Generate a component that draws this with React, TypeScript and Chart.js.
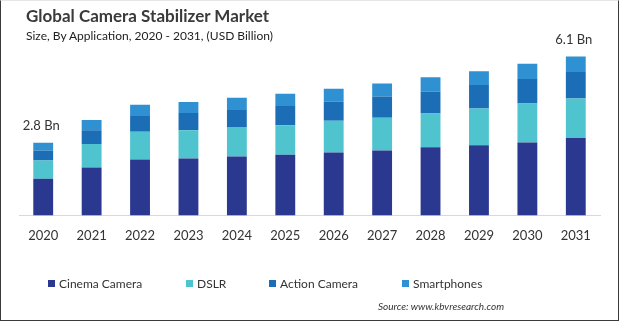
import React, { useEffect, useRef } from "react";
import { Chart, registerables } from "chart.js";

Chart.register(...registerables);

const categories = ["2020", "2021", "2022", "2023", "2024", "2025", "2026", "2027", "2028", "2029", "2030", "2031"];
const cinemaCamera = [1.41, 1.84, 2.15, 2.19, 2.27, 2.34, 2.42, 2.5, 2.62, 2.7, 2.81, 2.98];
const dslr = [0.7, 0.91, 1.07, 1.09, 1.13, 1.13, 1.22, 1.26, 1.3, 1.42, 1.5, 1.52];
const actionCamera = [0.39, 0.53, 0.61, 0.66, 0.66, 0.74, 0.74, 0.82, 0.85, 0.9, 0.94, 1.02];
const smartphones = [0.3, 0.39, 0.43, 0.43, 0.47, 0.47, 0.5, 0.5, 0.55, 0.53, 0.59, 0.6];
const totalLabels = ["2.8 Bn", "", "", "", "", "", "", "", "", "", "", "6.1 Bn"];

const seriesNames = ["Cinema Camera", "DSLR", "Action Camera", "Smartphones"];
const seriesColors = ["#2B388F", "#4FC3CE", "#1B6EB6", "#2F91D2"];
const seriesData = [cinemaCamera, dslr, actionCamera, smartphones];
const legendLeft = [47, 185, 268, 401];

const FONT = "Lato, 'Open Sans', sans-serif";

const totalLabelPlugin = {
  id: "totalLabels",
  afterDatasetsDraw(chart: any) {
    const ctx = chart.ctx;
    const last = chart.data.datasets.length - 1;
    const meta = chart.getDatasetMeta(last);
    ctx.save();
    ctx.font = `13px ${FONT}`;
    ctx.fillStyle = "#333333";
    ctx.textAlign = "center";
    ctx.textBaseline = "middle";
    totalLabels.forEach((txt, i) => {
      if (!txt) return;
      const el = meta.data[i];
      ctx.fillText(txt, el.x - 2, el.y - 17);
    });
    ctx.restore();
  },
};

export default function App() {
  const canvasRef = useRef<HTMLCanvasElement | null>(null);

  useEffect(() => {
    if (!canvasRef.current) return;
    const chart = new Chart(canvasRef.current, {
      type: "bar",
      data: {
        labels: categories,
        datasets: seriesNames.map((name, i) => ({
          label: name,
          data: seriesData[i],
          backgroundColor: seriesColors[i],
          borderWidth: 0,
          categoryPercentage: 1,
          barPercentage: 0.41,
        })),
      },
      options: {
        animation: false,
        responsive: false,
        maintainAspectRatio: false,
        layout: { padding: { top: 44, right: 20, bottom: 65, left: 0 } },
        plugins: {
          legend: { display: false },
          title: { display: false },
          tooltip: { enabled: false },
        },
        scales: {
          x: {
            stacked: true,
            grid: { display: false, drawTicks: false },
            border: { display: true, color: "#d9d9d9", width: 1 },
            ticks: { color: "#333333", font: { family: FONT, size: 13 }, padding: 13 },
          },
          y: {
            stacked: true,
            min: 0,
            max: 6.6,
            grid: { display: false, drawTicks: false },
            border: { display: false },
            ticks: { display: false },
            afterFit: (scale: any) => {
              scale.width = 19;
            },
          },
        },
      },
      plugins: [totalLabelPlugin],
    });
    return () => chart.destroy();
  }, []);

  return (
    <div
      style={{
        position: "fixed",
        left: 0,
        top: 0,
        width: 619,
        height: 321,
        boxSizing: "border-box",
        borderLeft: "1px solid #3a3a3a",
        borderRight: "1px solid #3a3a3a",
        borderBottom: "1px solid #3a3a3a",
        borderTop: "1px solid #e6e6e6",
        background: "#ffffff",
        overflow: "hidden",
        fontFamily: FONT,
      }}
    >
      <canvas
        ref={canvasRef}
        width={620}
        height={322}
        style={{ position: "absolute", left: -1, top: -1, width: 620, height: 322 }}
      />
      <div style={{ position: "absolute", left: 25, top: 4, fontSize: 17, fontWeight: 700, color: "#3a3a3a", whiteSpace: "nowrap" }}>
        Global Camera Stabilizer Market
      </div>
      <div style={{ position: "absolute", left: 25, top: 27, fontSize: 12, color: "#222222", whiteSpace: "nowrap" }}>
        Size, By Application, 2020 - 2031, (USD Billion)
      </div>
      {seriesNames.map((name, i) => (
        <div
          key={name}
          style={{
            position: "absolute",
            left: legendLeft[i],
            top: 275,
            display: "flex",
            alignItems: "center",
            fontSize: 12,
            color: "#333333",
            whiteSpace: "nowrap",
          }}
        >
          <span style={{ display: "inline-block", width: 7, height: 7, background: seriesColors[i], marginRight: 4 }} />
          {name}
        </div>
      ))}
      <div style={{ position: "absolute", right: 114, top: 299, fontSize: 10, fontStyle: "italic", color: "#333333", whiteSpace: "nowrap" }}>
        Source: www.kbvresearch.com
      </div>
    </div>
  );
}
